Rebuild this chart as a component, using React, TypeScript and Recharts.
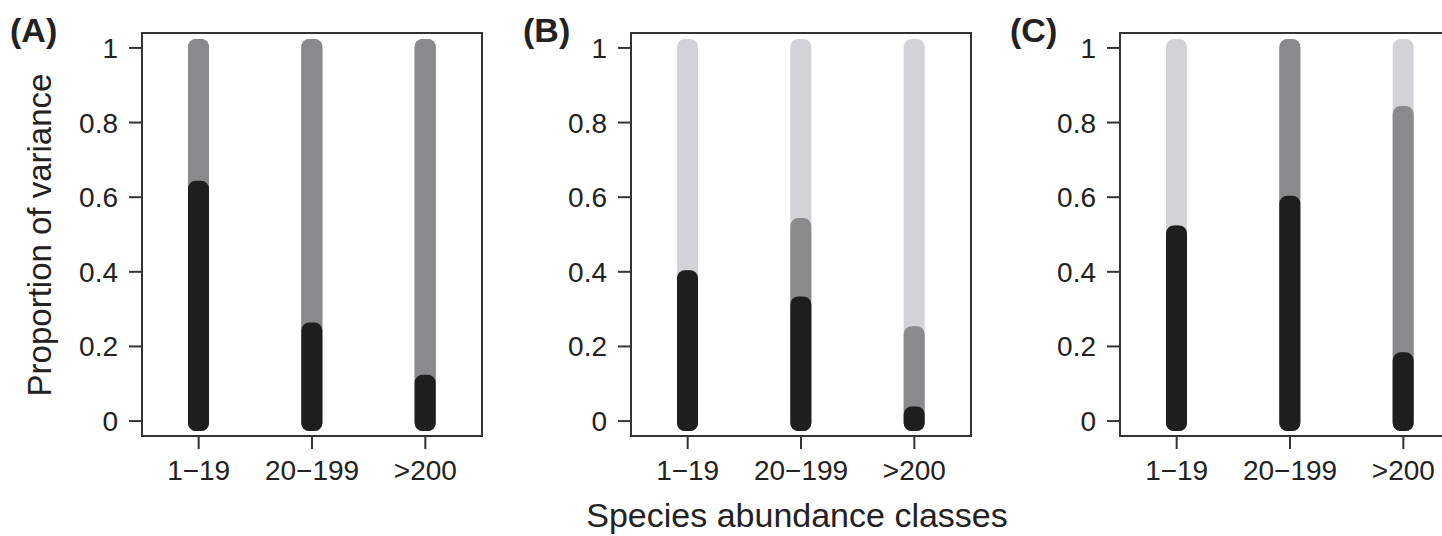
import { BarChart, Bar, XAxis, YAxis, ReferenceArea } from 'recharts';

const classes = ['1\u221219', '20\u2212199', '>200'];
const yTicks = [0, 0.2, 0.4, 0.6, 0.8, 1];

// share of variance per class, bottom (black) → middle (dark grey) → top (light grey)
const aBlack = [0.62, 0.24, 0.1];
const aGrey = [0.38, 0.76, 0.9];
const aLight = [0, 0, 0];

const bBlack = [0.38, 0.31, 0.015];
const bGrey = [0, 0.21, 0.215];
const bLight = [0.62, 0.48, 0.77];

const cBlack = [0.5, 0.58, 0.16];
const cGrey = [0, 0.42, 0.66];
const cLight = [0.5, 0, 0.18];

const BLACK = '#1e1e1e';
const GREY = '#8a8a8d';
const LIGHT = '#d3d3d7';
const INK = '#222';
const FONT = '"Liberation Sans", Arial, Helvetica, sans-serif';

// bars are drawn as thick round-ended strokes, like stacked points in R
const capShape = (props: any) => {
    const { x, y, width, height, fill } = props;
    if (!height && height !== 0) return <g />;
    return <rect x={x} y={y - 9} width={width} height={height + 19} rx={8} ry={8} fill={fill} />;
};

const XTick = (props: any) => {
    const { x, y, payload } = props;
    return (
        <text x={x} y={y + 29} textAnchor="middle" fontSize={28} fill={INK} fontFamily={FONT}>
            {payload.value}
        </text>
    );
};

const YTick = (props: any) => {
    const { x, y, payload } = props;
    return (
        <text x={x - 9} y={y + 10} textAnchor="end" fontSize={28} fill={INK} fontFamily={FONT}>
            {String(payload.value)}
        </text>
    );
};

interface PanelProps {
    left: number;
    black: number[];
    grey: number[];
    light: number[];
}

function Panel({ left, black, grey, light }: PanelProps) {
    const rows = classes.map((cls, i) => ({
        cls,
        low: black[i],
        mid: black[i] + grey[i],
        top: black[i] + grey[i] + light[i],
    }));
    const topColour = light.some(v => v > 0) ? LIGHT : GREY;

    return (
        <div style={{ position: 'absolute', left, top: 0 }}>
            <BarChart width={490} height={536} data={rows} margin={{ top: 33, right: 8, bottom: 60, left: 82 }}>
                <XAxis
                    xAxisId="x"
                    dataKey="cls"
                    height={40}
                    interval={0}
                    axisLine={false}
                    stroke="#333"
                    tickSize={13}
                    tickLine={{ stroke: '#333', strokeWidth: 2 }}
                    tick={XTick}
                />
                <XAxis xAxisId="x2" dataKey="cls" hide />
                <XAxis xAxisId="x3" dataKey="cls" hide />
                <YAxis
                    type="number"
                    domain={[-0.04, 1.04]}
                    ticks={yTicks}
                    interval={0}
                    width={60}
                    axisLine={false}
                    stroke="#333"
                    tickSize={13}
                    tickLine={{ stroke: '#333', strokeWidth: 2 }}
                    tick={YTick}
                />
                <Bar xAxisId="x" dataKey="top" fill={topColour} barSize={21} shape={capShape} isAnimationActive={false} />
                <Bar xAxisId="x2" dataKey="mid" fill={GREY} barSize={21} shape={capShape} isAnimationActive={false} />
                <Bar xAxisId="x3" dataKey="low" fill={BLACK} barSize={21} shape={capShape} isAnimationActive={false} />
                <ReferenceArea
                    xAxisId="x"
                    y1={-0.04}
                    y2={1.04}
                    fill="none"
                    fillOpacity={0}
                    stroke="#333"
                    strokeWidth={2}
                    ifOverflow="visible"
                />
            </BarChart>
        </div>
    );
}

export default function App() {
    return (
        <div
            style={{
                position: 'absolute',
                left: 0,
                top: 0,
                width: 1442,
                height: 536,
                overflow: 'hidden',
                background: '#fff',
                fontFamily: FONT,
            }}
        >
            <Panel left={0} black={aBlack} grey={aGrey} light={aLight} />
            <Panel left={489} black={bBlack} grey={bGrey} light={bLight} />
            <Panel left={978} black={cBlack} grey={cGrey} light={cLight} />
            <svg
                width={1442}
                height={536}
                style={{ position: 'absolute', left: 0, top: 0, pointerEvents: 'none' }}
            >
                <text x={10} y={42} fontSize={34} fontWeight="bold" fill={INK} fontFamily={FONT}>(A)</text>
                <text x={523} y={42} fontSize={34} fontWeight="bold" fill={INK} fontFamily={FONT}>(B)</text>
                <text x={1010} y={42} fontSize={34} fontWeight="bold" fill={INK} fontFamily={FONT}>(C)</text>
                <text
                    transform="translate(51,235) rotate(-90)"
                    textAnchor="middle"
                    fontSize={33}
                    fill={INK}
                    fontFamily={FONT}
                >
                    Proportion of variance
                </text>
                <text x={797} y={527} textAnchor="middle" fontSize={34} fill={INK} fontFamily={FONT}>
                    Species abundance classes
                </text>
            </svg>
        </div>
    );
}
